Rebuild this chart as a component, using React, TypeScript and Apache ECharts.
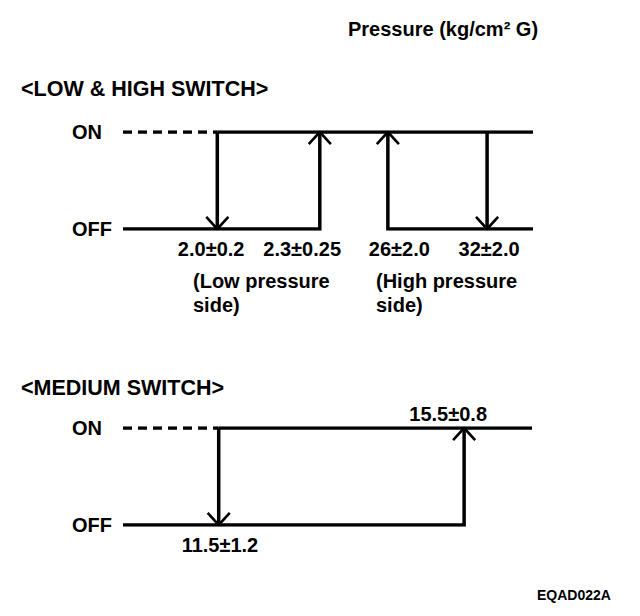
import React, { useEffect, useRef } from "react";
import * as echarts from "echarts";

// ---- data ----
const stateLabels = ["OFF", "ON"]; // y value 0 = OFF, 1 = ON
const unitLabel = "Pressure (kg/cm² G)";
const lowHighTitle = "<LOW & HIGH SWITCH>";
const mediumTitle = "<MEDIUM SWITCH>";
const figureCode = "EQAD022A";

// LOW & HIGH switch: switching points on a schematic pressure axis (0..100)
const lowHighThresholds = ["2.0±0.2", "2.3±0.25", "26±2.0", "32±2.0"];
const lowHighSwitchX = [23, 48, 64.6, 88.8];
const lowHighArrowDir = ["down", "up", "up", "down"];
const lowHighLabelX = [21.5, 43.7, 67.4, 89.3];
const lowHighNotes = ["(Low pressure\nside)", "(High pressure\nside)"];

// MEDIUM switch
const mediumThresholds = ["11.5±1.2", "15.5±0.8"];
const mediumSwitchX = [23.4, 83.4];
const mediumArrowDir = ["down", "up"];
const mediumLabelX = [23.7, 79.5];
const mediumLabelState = [0, 1];

const X_MIN = 0;
const X_MAX = 100;

const FONT = "'Liberation Sans', Arial, Helvetica, sans-serif";
const LW = 3.5;

function lineSeries(gi: number, data: number[][], dashed = false) {
  return {
    type: "line",
    xAxisIndex: gi,
    yAxisIndex: gi,
    data,
    showSymbol: false,
    symbol: "none",
    silent: true,
    lineStyle: {
      color: "#000",
      width: LW,
      type: dashed ? [9, 6] : "solid",
      join: "miter",
      cap: "butt",
    },
  };
}

function arrowHead(gi: number, x: number, dir: string) {
  const dx = 2.7;
  const dy = 0.124;
  const tipY = dir === "down" ? 0 : 1;
  const armY = dir === "down" ? dy : 1 - dy;
  return {
    type: "line",
    xAxisIndex: gi,
    yAxisIndex: gi,
    data: [
      [x - dx, armY],
      [x, tipY],
      [x + dx, armY],
    ],
    showSymbol: false,
    symbol: "none",
    silent: true,
    lineStyle: { color: "#000", width: 2.6, join: "miter", cap: "butt" },
  };
}

function labelSeries(gi: number, xs: number[], ys: number[], names: string[], offsets: number[]) {
  return {
    type: "scatter",
    xAxisIndex: gi,
    yAxisIndex: gi,
    symbolSize: 0,
    silent: true,
    itemStyle: { color: "#000", opacity: 1 },
    data: xs.map((x, i) => ({
      value: [x, ys[i]],
      name: names[i],
      label: { offset: [0, offsets[i]] },
    })),
    label: {
      show: true,
      position: "inside",
      formatter: "{b}",
      color: "#000",
      opacity: 1,
      textBorderWidth: 0,
      fontFamily: FONT,
      fontWeight: "bold",
      fontSize: 20,
    },
  };
}

export default function App() {
  const ref = useRef<HTMLDivElement>(null);

  useEffect(() => {
    if (!ref.current) return;
    const chart = echarts.init(ref.current, null, { renderer: "svg" });

    const yAxisBase = (gi: number) => ({
      type: "value",
      gridIndex: gi,
      min: 0,
      max: 1,
      interval: 1,
      axisLine: { show: false },
      axisTick: { show: false },
      splitLine: { show: false },
      axisLabel: {
        formatter: (v: number) => stateLabels[v] ?? "",
        align: "left",
        margin: 51,
        color: "#000",
        fontFamily: FONT,
        fontWeight: "bold",
        fontSize: 20,
      },
    });
    const xAxisBase = (gi: number) => ({
      type: "value",
      gridIndex: gi,
      min: X_MIN,
      max: X_MAX,
      show: false,
    });

    const [a0, a1, a2, a3] = lowHighSwitchX;
    const [m0, m1] = mediumSwitchX;

    const series: any[] = [
      // LOW & HIGH
      lineSeries(0, [[X_MIN, 1], [a0, 1]], true),
      lineSeries(0, [[a0, 1], [X_MAX, 1]]),
      lineSeries(0, [[X_MIN, 0], [a1, 0], [a1, 1]]),
      lineSeries(0, [[a2, 1], [a2, 0], [X_MAX, 0]]),
      lineSeries(0, [[a0, 1], [a0, 0]]),
      lineSeries(0, [[a3, 1], [a3, 0]]),
      ...lowHighSwitchX.map((x, i) => arrowHead(0, x, lowHighArrowDir[i])),
      labelSeries(0, lowHighLabelX, [0, 0, 0, 0], lowHighThresholds, [19.5, 19.5, 19.5, 19.5]),
      // MEDIUM
      lineSeries(1, [[X_MIN, 1], [m0, 1]], true),
      lineSeries(1, [[m0, 1], [X_MAX, 1]]),
      lineSeries(1, [[X_MIN, 0], [m1, 0], [m1, 1]]),
      lineSeries(1, [[m0, 1], [m0, 0]]),
      ...mediumSwitchX.map((x, i) => arrowHead(1, x, mediumArrowDir[i])),
      labelSeries(1, mediumLabelX, mediumLabelState, mediumThresholds, [20, -14.5]),
    ];

    const txt = (text: string, left: number, top: number, fontSize: number, lineHeight?: number) => ({
      type: "text",
      x: left,
      y: top,
      silent: true,
      style: {
        text,
        fill: "#000",
        fontFamily: FONT,
        fontWeight: "bold",
        fontSize,
        lineHeight: lineHeight ?? fontSize,
        textAlign: "left",
        textVerticalAlign: "middle",
      },
    });

    chart.setOption({
      animation: false,
      backgroundColor: "#fff",
      grid: [
        { left: 123, right: 107, top: 132, height: 97 },
        { left: 123, right: 108, top: 428, height: 97 },
      ],
      xAxis: [xAxisBase(0), xAxisBase(1)],
      yAxis: [yAxisBase(0), yAxisBase(1)],
      series,
      graphic: [
        txt(unitLabel, 348, 29, 20),
        txt(lowHighTitle, 21, 89, 21.5),
        txt(mediumTitle, 21, 388, 21.5),
        txt(lowHighNotes[0], 193, 293, 20, 24),
        txt(lowHighNotes[1], 376, 293, 20, 24),
        txt(figureCode, 537, 595, 14),
      ],
    });

    return () => chart.dispose();
  }, []);

  return (
    <div
      ref={ref}
      style={{ position: "fixed", left: 0, top: 0, width: 640, height: 616, background: "#fff" }}
    />
  );
}
